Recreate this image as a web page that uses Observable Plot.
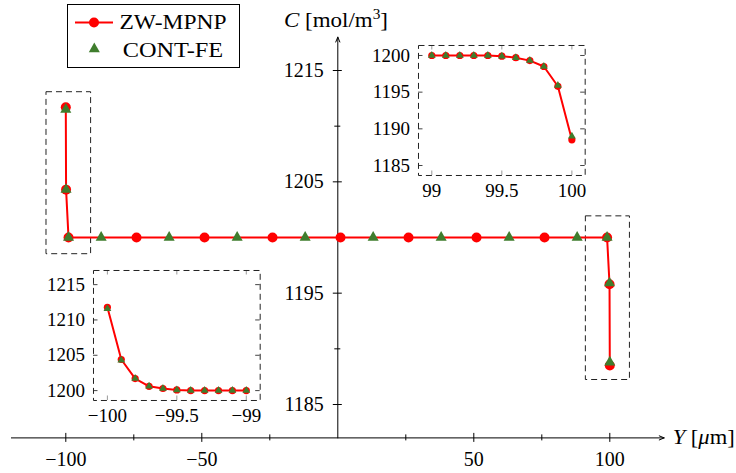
<!DOCTYPE html>
<html><head><meta charset="utf-8">
<script src="https://cdn.jsdelivr.net/npm/d3@7"></script>
<script src="https://cdn.jsdelivr.net/npm/@observablehq/plot@0.6"></script>
<style>
body{margin:0;background:#fff;}
#wrap{position:relative;width:736px;height:473px;overflow:hidden;font-family:'Liberation Serif',serif;background:#fff;}
#wrap svg{position:absolute;}
#wrap svg text{font-family:'Liberation Serif',serif !important;}
</style></head><body><div id="wrap"></div>
<script>
// ---------- data ----------
// main plot, ZW-MPNP
const zwY = [-100, -99.9, -99, -74, -49, -24, 1, 26, 51, 76, 99, 99.9, 100];
const zwC = [1211.7, 1204.3, 1200, 1200, 1200, 1200, 1200, 1200, 1200, 1200, 1200, 1195.8, 1188.5];
// main plot, CONT-FE
const feY = [-100, -99.9, -99, -87, -62, -37, -12, 13, 38, 63, 88, 99, 99.9, 100];
const feC = [1211.5, 1204.3, 1200, 1200, 1200, 1200, 1200, 1200, 1200, 1200, 1200, 1200, 1195.9, 1188.8];
// left inset
const leftY = [-100, -99.9, -99.8, -99.7, -99.6, -99.5, -99.4, -99.3, -99.2, -99.1, -99.0];
const leftZW = [1211.8, 1204.4, 1201.7, 1200.6, 1200.3, 1200.1, 1200, 1200, 1200, 1200, 1200];
const leftFE = [1211.6, 1204.3, 1201.7, 1200.6, 1200.3, 1200.1, 1200, 1200, 1200, 1200, 1200];
// right inset
const rightY = [99.0, 99.1, 99.2, 99.3, 99.4, 99.5, 99.6, 99.7, 99.8, 99.9, 100];
const rightZW = [1200, 1200, 1200, 1200, 1200, 1199.9, 1199.7, 1199.3, 1198.5, 1195.8, 1188.5];
const rightFE = [1200, 1200, 1200, 1200, 1200, 1199.9, 1199.7, 1199.3, 1198.5, 1195.9, 1189.0];
// ticks
const mainXMajor = [-100, -50, 50, 100];
const mainXMinor = [-75, -25, 25, 75];
const mainYMajor = [1185, 1195, 1205, 1215];
const mainYMinor = [1190, 1200, 1210];
const leftXTicks = [-100, -99.5, -99];
const leftYTicks = [1200, 1205, 1210, 1215];
const rightXTicks = [99, 99.5, 100];
const rightYTicks = [1185, 1190, 1195, 1200];
// domains
const mainXDomain = [-120, 120];
const mainYDomain = [1182, 1218];
const leftXDomain = [-100.1, -98.9];
const leftYDomain = [1198.6, 1217.0];
const rightXDomain = [98.905, 100.095];
const rightYDomain = [1183.64, 1201.36];
// zoom windows shown in the main plot
const zoomBoxes = [
  {x1: -107.1, x2: -90.7, y1: 1198.5, y2: 1213.05},
  {x1: 91.2, x2: 107.4, y1: 1187.2, y2: 1201.9}
];

// ---------- helpers ----------
const RED = "#ff0000", GREEN = "#3f7d2d";
const FONT = "'Liberation Serif', serif";
const fmt = d3.format("");
const pts = (xs, vs) => xs.map((x, i) => ({Y: x, C: vs[i]}));
const wrap = document.getElementById("wrap");

function place(svg, left, top) {
  svg.style.position = "absolute";
  svg.style.left = left + "px";
  svg.style.top = top + "px";
  wrap.appendChild(svg);
}

// ---------- main plot ----------
const x0 = mainYDomain[0];
const main = Plot.plot({
  width: 736, height: 473,
  marginLeft: 10.9, marginRight: 72.3, marginTop: 36.6, marginBottom: 35.6,
  x: {domain: mainXDomain, axis: null},
  y: {domain: mainYDomain, axis: null},
  style: {background: "transparent", fontFamily: FONT, overflow: "visible"},
  marks: [
    Plot.rect(zoomBoxes, {x1: "x1", x2: "x2", y1: "y1", y2: "y2", fill: "none", stroke: "#222", strokeWidth: 1, strokeDasharray: "6,4"}),
    Plot.arrow([null], {x1: mainXDomain[0], x2: mainXDomain[1], y1: x0, y2: x0, stroke: "#000", strokeWidth: 1, headLength: 8, headAngle: 45}),
    Plot.arrow([null], {x1: 0, x2: 0, y1: mainYDomain[0], y2: mainYDomain[1], stroke: "#000", strokeWidth: 1, headLength: 8, headAngle: 45}),
    Plot.ruleX(mainXMajor, {x: d => d, y1: x0, y2: x0, insetTop: -4.5, insetBottom: -4.5, stroke: "#000"}),
    Plot.ruleX(mainXMinor, {x: d => d, y1: x0, y2: x0, insetTop: -3, insetBottom: -3, stroke: "#000"}),
    Plot.ruleY(mainYMajor, {y: d => d, x1: 0, x2: 0, insetLeft: -4.5, insetRight: -4.5, stroke: "#000"}),
    Plot.ruleY(mainYMinor, {y: d => d, x1: 0, x2: 0, insetLeft: -3, insetRight: -3, stroke: "#000"}),
    Plot.text(mainXMajor, {x: d => d, y: x0, text: d => fmt(d), dy: 21.5, fontSize: 20, fontFamily: FONT, fill: "#000"}),
    Plot.text(mainYMajor, {x: 0, y: d => d, text: d => fmt(d), dx: -14, textAnchor: "end", fontSize: 20, fontFamily: FONT, fill: "#000"}),
    Plot.line(pts(zwY, zwC), {x: "Y", y: "C", stroke: RED, strokeWidth: 2}),
    Plot.dot(pts(zwY, zwC), {x: "Y", y: "C", r: 5, fill: RED}),
    Plot.dot(pts(feY, feC), {x: "Y", y: "C", r: 4.1, symbol: "triangle", fill: GREEN})
  ]
});
place(main, 0, 0);

// ---------- insets ----------
function inset(xd, yd, xt, yt, xs, zw, fe) {
  const ML = 60, MR = 12, MT = 10, MB = 30, W = 166.7, H = 130;
  return Plot.plot({
    width: ML + W + MR, height: MT + H + MB,
    marginLeft: ML, marginRight: MR, marginTop: MT, marginBottom: MB,
    x: {domain: xd, axis: null},
    y: {domain: yd, axis: null},
    style: {background: "transparent", fontFamily: FONT, overflow: "visible"},
    marks: [
      Plot.ruleX(xt, {x: d => d, y1: yd[0], y2: yd[0], insetTop: -4.5, insetBottom: 0, stroke: "#999"}),
      Plot.ruleX(xt, {x: d => d, y1: yd[1], y2: yd[1], insetTop: 0, insetBottom: -4.5, stroke: "#999"}),
      Plot.ruleY(yt, {y: d => d, x1: xd[0], x2: xd[0], insetLeft: 0, insetRight: -4.5, stroke: "#444"}),
      Plot.ruleY(yt, {y: d => d, x1: xd[1], x2: xd[1], insetLeft: -4.5, insetRight: 0, stroke: "#444"}),
      Plot.frame({stroke: "#222", strokeWidth: 1, strokeDasharray: "6,4"}),
      Plot.text(xt, {x: d => d, y: yd[0], text: d => fmt(d), dy: 15, fontSize: 19, fontFamily: FONT, fill: "#000"}),
      Plot.text(yt, {x: xd[0], y: d => d, text: d => fmt(d), dx: -8.5, textAnchor: "end", fontSize: 19, fontFamily: FONT, fill: "#000"}),
      Plot.line(pts(xs, zw), {x: "Y", y: "C", stroke: RED, strokeWidth: 2}),
      Plot.dot(pts(xs, zw), {x: "Y", y: "C", r: 3.6, fill: RED}),
      Plot.dot(pts(xs, fe), {x: "Y", y: "C", r: 2.9, symbol: "triangle", fill: GREEN})
    ]
  });
}
place(inset(leftXDomain, leftYDomain, leftXTicks, leftYTicks, leftY, leftZW, leftFE), 92.7 - 60, 270 - 10);
place(inset(rightXDomain, rightYDomain, rightXTicks, rightYTicks, rightY, rightZW, rightFE), 418.3 - 60, 45 - 10);

// ---------- legend and axis titles ----------
const NS = "http://www.w3.org/2000/svg";
const over = document.createElementNS(NS, "svg");
over.setAttribute("width", 736);
over.setAttribute("height", 473);
over.style.left = "0px"; over.style.top = "0px";
over.innerHTML = `
<g font-family="${FONT}" font-size="21" fill="#000">
  <rect x="67.5" y="4.5" width="172" height="63" fill="#fff" stroke="#000" stroke-width="1"/>
  <line x1="75" x2="113" y1="22.5" y2="22.5" stroke="${RED}" stroke-width="2"/>
  <circle cx="94" cy="22.5" r="5" fill="${RED}"/>
  <path d="${d3.symbol(d3.symbolTriangle, Math.PI * 4.1 * 4.1)()}" transform="translate(94.3,49)" fill="${GREEN}"/>
  <text x="119.5" y="29" textLength="107" lengthAdjust="spacingAndGlyphs">ZW-MPNP</text>
  <text x="122.7" y="57" textLength="100.5" lengthAdjust="spacingAndGlyphs">CONT-FE</text>
  <text x="284" y="27.3" textLength="104" lengthAdjust="spacingAndGlyphs"><tspan font-style="italic">C</tspan> [mol/m<tspan font-size="14" dy="-8">3</tspan><tspan dy="8">]</tspan></text>
  <text x="672.7" y="444" textLength="62" lengthAdjust="spacingAndGlyphs"><tspan font-style="italic">Y</tspan> [<tspan font-style="italic">μ</tspan>m]</text>
</g>`;
wrap.appendChild(over);
</script>
</body></html>
